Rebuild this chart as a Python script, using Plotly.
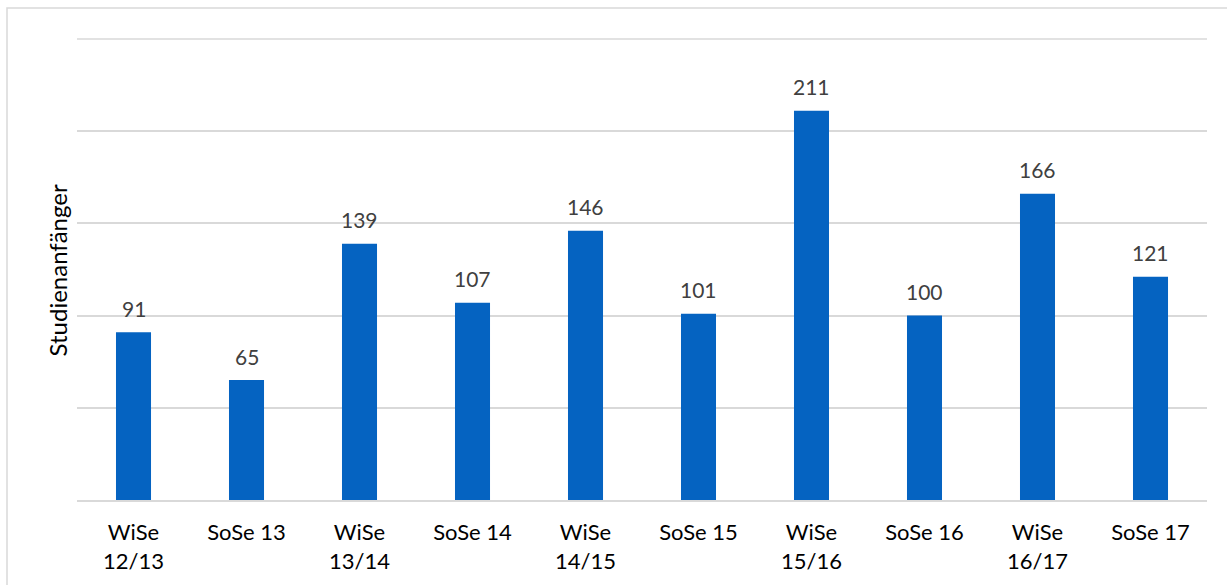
import plotly.graph_objects as go

categories = ["WiSe<br>12/13", "SoSe 13", "WiSe<br>13/14", "SoSe 14", "WiSe<br>14/15",
              "SoSe 15", "WiSe<br>15/16", "SoSe 16", "WiSe<br>16/17", "SoSe 17"]
values = [91, 65, 139, 107, 146, 101, 211, 100, 166, 121]
y_title = "Studienanfänger"
y_max = 250

FONT = "Lato"
BAR = "#0563C1"
GRID = "#D9D9D9"

fig = go.Figure()
fig.add_trace(go.Bar(x=categories, y=values, marker=dict(color=BAR, line=dict(width=0)),
                     width=0.31, hoverinfo="x+y"))

for c, v in zip(categories, values):
    fig.add_annotation(x=c, y=v, text=str(v), showarrow=False, yanchor="middle",
                       yshift=24, font=dict(family=FONT, size=21, color="#404040"))

fig.add_annotation(xref="paper", yref="paper", x=(58 - 77) / 1130, y=(500 - 271) / 461,
                   text=y_title, textangle=-90, showarrow=False,
                   xanchor="center", yanchor="middle",
                   font=dict(family=FONT, size=24, color="#000000"))

# top gridline (at axis maximum)
fig.add_shape(type="line", xref="paper", yref="y", x0=0, x1=1, y0=y_max, y1=y_max,
              line=dict(color=GRID, width=1.5), layer="below")

# outer chart border
fig.add_shape(type="rect", xref="paper", yref="paper",
              x0=(7 - 77) / 1130, x1=1.2, y0=-0.4, y1=(500 - 9) / 461,
              line=dict(color=GRID, width=1.5), fillcolor="rgba(0,0,0,0)", layer="below")

fig.update_layout(
    width=1227, height=585,
    margin=dict(l=77, r=20, t=38, b=85, autoexpand=False),
    paper_bgcolor="white", plot_bgcolor="white",
    showlegend=False, bargap=0.69,
    font=dict(family=FONT, size=22, color="#000000"),
)
fig.update_yaxes(range=[0, y_max + 0.5], dtick=50, showticklabels=False, showgrid=True,
                 gridcolor=GRID, gridwidth=1.5, zeroline=False, showline=False,
                 fixedrange=True, automargin=False)
fig.update_xaxes(showline=True, linecolor=GRID, linewidth=1.5, showgrid=False,
                 ticks="outside", ticklen=12, tickcolor="rgba(0,0,0,0)",
                 tickfont=dict(family=FONT, size=22, color="#000000"),
                 fixedrange=True, automargin=False)

fig.write_html("out.html")
